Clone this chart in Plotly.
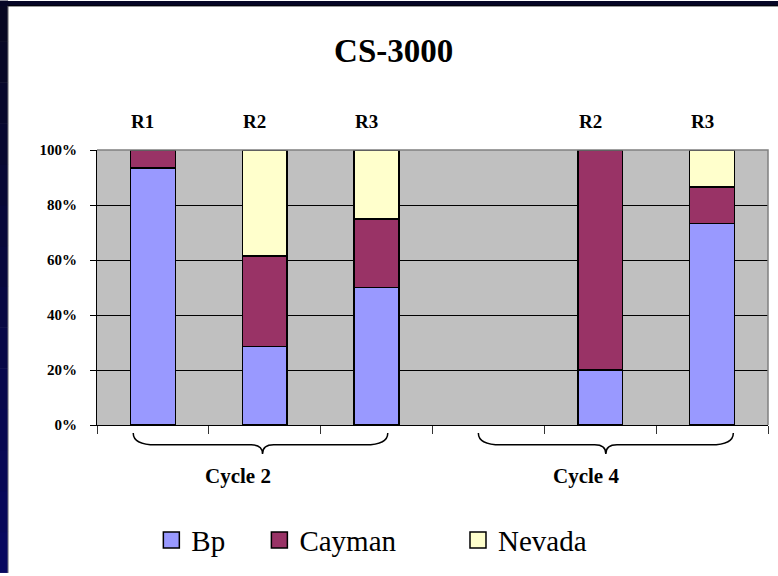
import plotly.graph_objects as go

# ---- data ----
run_labels = ["R1", "R2", "R3", "", "R2", "R3"]
bp = [93.5, 28.5, 50.0, None, 20.0, 73.3]
cayman = [6.5, 33.0, 25.0, None, 80.0, 13.3]
nevada = [None, 38.5, 25.0, None, None, 13.4]
cycle_labels = ["Cycle 2", "Cycle 4"]
cycle_centers = [1, 4]          # category index at the centre of each cycle group
y_ticks = [0, 20, 40, 60, 80, 100]

series = [("Bp", bp, "#9999FF"), ("Cayman", cayman, "#993366"), ("Nevada", nevada, "#FFFFCC")]

x_idx = list(range(len(run_labels)))
SERIF = "Liberation Serif, Times New Roman, serif"

fig = go.Figure()
legend_names = ["legend", "legend2", "legend3"]
for (name, vals, col), lg in zip(series, legend_names):
    fig.add_trace(go.Bar(
        x=x_idx, y=vals, name=name, width=0.4,
        marker=dict(color=col, line=dict(color="black", width=1.5)),
        showlegend=False,
    ))
    # legend proxy (larger square symbol)
    fig.add_trace(go.Scatter(
        x=[None], y=[None], mode="markers", name=name, legend=lg,
        marker=dict(symbol="square", size=16, color=col, line=dict(color="black", width=1.5)),
    ))

# top run labels
for i, lab in enumerate(run_labels):
    if lab:
        fig.add_annotation(x=i, y=1, xref="x", yref="paper", text=lab, showarrow=False,
                           xshift=-10, yshift=29, yanchor="middle",
                           font=dict(family=SERIF, size=19, color="black", weight="bold"))

# braces (left offset, right offset, tip offset relative to the group centre) and cycle labels
brace_geom = [(-1.176, 1.10, -0.02, -25), (-1.09, 1.19, 0.05, -20)]
y_end, y_mid, y_tip = -0.029, -0.072, -0.105
for c, lab, (dl, dr, dt, lab_shift) in zip(cycle_centers, cycle_labels, brace_geom):
    x0, x1, tip = c + dl, c + dr, c + dt
    r = 0.2
    t = 0.1
    path = (f"M {x0},{y_end} Q {x0},{y_mid} {x0 + r},{y_mid} "
            f"L {tip - t},{y_mid} Q {tip},{y_mid} {tip},{y_tip} "
            f"Q {tip},{y_mid} {tip + t},{y_mid} "
            f"L {x1 - r},{y_mid} Q {x1},{y_mid} {x1},{y_end}")
    fig.add_shape(type="path", path=path, xref="x", yref="paper",
                  line=dict(color="black", width=1.5))
    fig.add_annotation(x=tip, y=-0.184, xref="x", yref="paper", text=lab, showarrow=False,
                       xshift=lab_shift, yanchor="middle",
                       font=dict(family=SERIF, size=21, color="black", weight="bold"))

# frame decorations (dark gradient border at left and top)
n = 14
y_lo, y_hi = -0.538, 1.5415
for k in range(n):
    f = k / (n - 1)
    r_, g_, b_ = int(8), int(8), int(95 - f * 60)
    fig.add_shape(type="rect", xref="paper", yref="paper",
                  x0=-0.145, x1=-0.1325,
                  y0=y_lo + (y_hi - y_lo) * k / n, y1=y_lo + (y_hi - y_lo) * (k + 1) / n + 0.002,
                  fillcolor=f"rgb({r_},{g_},{b_})", line=dict(width=0), layer="below")
fig.add_shape(type="rect", xref="paper", yref="paper", x0=-0.145, x1=1.02, y0=1.524, y1=1.5415,
              fillcolor="rgb(6,6,38)", line=dict(width=0), layer="below")
fig.add_shape(type="line", xref="paper", yref="paper", x0=-0.1325, x1=-0.1325, y0=y_lo, y1=1.524,
              line=dict(color="#888888", width=1), layer="below")
fig.add_shape(type="line", xref="paper", yref="paper", x0=-0.1325, x1=1.02, y0=1.524, y1=1.524,
              line=dict(color="black", width=1), layer="below")
# plot-area border (grey top/right)
fig.add_shape(type="path", xref="paper", yref="paper", path="M 0,1 L 1,1 L 1,0",
              line=dict(color="#808080", width=1.5), layer="above")

for lg, xpos in zip(legend_names, [0.081, 0.242, 0.538]):
    fig.layout[lg] = dict(x=xpos, y=-0.419, xanchor="left", yanchor="middle",
                          orientation="h", bgcolor="rgba(0,0,0,0)", itemsizing="trace",
                          font=dict(family=SERIF, size=29, color="black"))

fig.update_layout(
    width=778, height=576,
    margin=dict(l=97, r=10, t=150, b=149),
    paper_bgcolor="white", plot_bgcolor="#C0C0C0",
    barmode="stack", bargap=0.6,
    title=dict(text="CS-3000", x=0.506, xref="container", y=1 - 50 / 576, yref="container",
               xanchor="center", yanchor="middle",
               font=dict(family=SERIF, size=33, color="black", weight="bold")),
    xaxis=dict(range=[-0.5, len(run_labels) - 0.5], tickvals=[i - 0.5 for i in range(len(run_labels) + 1)],
               showticklabels=False, ticks="outside", ticklen=8, tickcolor="#333333",
               showgrid=False, zeroline=False, showline=True, linecolor="black", linewidth=1),
    yaxis=dict(range=[0, 100], tickvals=y_ticks, ticktext=[f"{v}%" for v in y_ticks],
               ticks="outside", ticklen=6, tickcolor="black", ticklabelstandoff=10,
               tickfont=dict(family=SERIF, size=15, color="black", weight="bold"),
               showgrid=True, gridcolor="black", gridwidth=1, zeroline=False,
               showline=True, linecolor="black", linewidth=1),
)

fig.write_html("out.html", config={"displayModeBar": False},
               post_script="document.body.style.margin='0px';document.body.style.overflow='hidden';")
